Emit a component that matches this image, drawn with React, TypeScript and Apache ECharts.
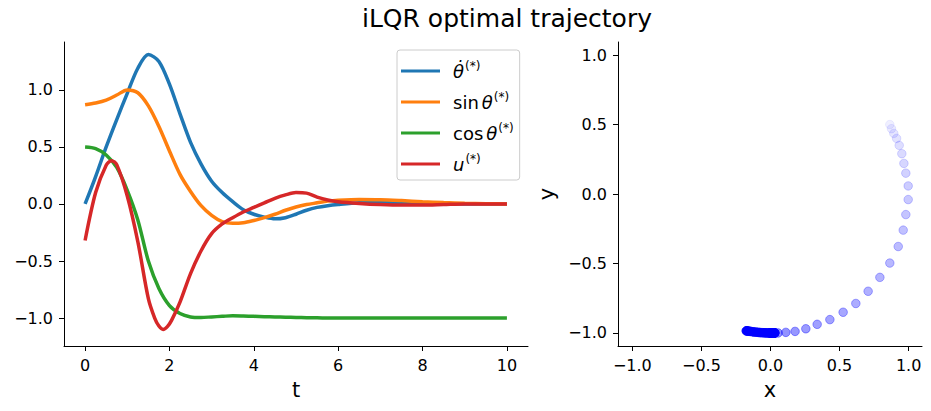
import React, { useEffect, useRef } from "react";
import * as echarts from "echarts";

// time samples
const tValues = [0, 0.25, 0.5, 0.75, 1, 1.25, 1.5, 1.75, 2, 2.25, 2.5, 2.75, 3, 3.25, 3.5, 3.75, 4, 4.25, 4.5, 4.75, 5, 5.25, 5.5, 5.75, 6, 6.5, 7, 7.5, 8, 8.5, 9, 9.5, 10];
// theta dot
const thetaDot = [0, 0.24, 0.5, 0.74, 0.97, 1.19, 1.31, 1.25, 1.05, 0.79, 0.54, 0.35, 0.2, 0.1, 0.02, -0.05, -0.09, -0.115, -0.13, -0.12, -0.09, -0.055, -0.03, -0.015, -0.005, 0.01, 0.015, 0.015, 0.01, 0.005, 0.0, 0.0, 0.0];
// sin theta
const sinTheta = [0.87, 0.885, 0.91, 0.955, 1.0, 0.975, 0.86, 0.68, 0.465, 0.26, 0.11, -0.015, -0.1, -0.155, -0.17, -0.165, -0.145, -0.12, -0.09, -0.055, -0.026, -0.005, 0.01, 0.025, 0.033, 0.04, 0.038, 0.03, 0.02, 0.012, 0.006, 0.002, 0.0];
// cos theta
const cosTheta = [0.5, 0.486, 0.43, 0.32, 0.12, -0.14, -0.5, -0.74, -0.89, -0.96, -0.99, -0.995, -0.99, -0.985, -0.98, -0.982, -0.985, -0.988, -0.99, -0.993, -0.995, -0.997, -0.998, -0.999, -1.0, -1.0, -1.0, -1.0, -1.0, -1.0, -1.0, -1.0, -1.0];
// control u (own, denser sampling around its extrema)
const uTimes = [0, 0.25, 0.5, 0.625, 0.75, 1, 1.25, 1.5, 1.65, 1.75, 1.85, 1.95, 2.05, 2.25, 2.5, 2.75, 3, 3.25, 3.5, 3.75, 4, 4.25, 4.5, 4.75, 5, 5.25, 5.5, 5.75, 6, 6.5, 7, 7.5, 8, 8.5, 9, 9.5, 10];
const uControl = [-0.32, 0.1, 0.34, 0.38, 0.345, 0.07, -0.33, -0.83, -1.0, -1.07, -1.1, -1.075, -1.02, -0.86, -0.61, -0.41, -0.26, -0.175, -0.12, -0.07, -0.03, 0.01, 0.05, 0.08, 0.1, 0.095, 0.06, 0.035, 0.02, 0.005, -0.005, -0.01, -0.01, -0.005, 0.0, 0.0, 0.0];

// pendulum tip positions (x = sin theta, y = cos theta)
const tipX = [0.864, 0.876, 0.893, 0.913, 0.932, 0.951, 0.966, 0.98, 0.997, 0.997, 0.98, 0.961, 0.925, 0.864, 0.792, 0.707, 0.618, 0.526, 0.43, 0.338, 0.256, 0.178, 0.111, 0.055,
  0.005, -0.04, -0.075, -0.1, -0.125, -0.145, -0.16, -0.17, -0.175, -0.175, -0.17, -0.165, -0.155, -0.145, -0.13, -0.12, -0.105, -0.09, -0.08, -0.065, -0.055, -0.045, -0.035, -0.025, -0.015, -0.01,
  0.0, 0.005, 0.01, 0.015, 0.02, 0.025, 0.025, 0.03, 0.03, 0.03, 0.03, 0.025, 0.025, 0.02, 0.02, 0.015, 0.015, 0.01, 0.01, 0.005, 0.005, 0.0, 0.0, 0.0];
const tipY = [0.5, 0.47, 0.436, 0.4, 0.35, 0.29, 0.22, 0.15, 0.058, -0.04, -0.148, -0.26, -0.378, -0.497, -0.6, -0.7, -0.788, -0.851, -0.904, -0.938, -0.97, -0.989, -0.996, -1.0,
  -1.0, -0.999, -0.997, -0.995, -0.992, -0.989, -0.987, -0.985, -0.985, -0.985, -0.985, -0.986, -0.988, -0.989, -0.991, -0.993, -0.994, -0.996, -0.997, -0.998, -0.998, -0.999, -0.999, -1.0, -1.0, -1.0,
  -1.0, -1.0, -1.0, -1.0, -1.0, -1.0, -1.0, -1.0, -1.0, -1.0, -1.0, -1.0, -1.0, -1.0, -1.0, -1.0, -1.0, -1.0, -1.0, -1.0, -1.0, -1.0, -1.0, -1.0];

const tTicks = [0, 2, 4, 6, 8, 10];
const valTicks = [-1, -0.5, 0, 0.5, 1];

const seriesNames = ["thetaDot", "sinTheta", "cosTheta", "u"];
const seriesColors = ["#1f77b4", "#ff7f0e", "#2ca02c", "#d62728"];
const legendLabels: Record<string, string> = {
  thetaDot: "{it|θ\u0307}{sup|(*)}",
  sinTheta: "{rm|sin}{itp|θ}{sup|(*)}",
  cosTheta: "{rm|cos}{itp|θ}{sup|(*)}",
  u: "{it|u}{sup|(*)}",
};

const FONT = "DejaVu Sans";
const valFmt = (v: number) => (v < 0 ? "\u2212" : "") + Math.abs(v).toFixed(1);

export default function App() {
  const ref = useRef<HTMLDivElement>(null);
  useEffect(() => {
    if (!ref.current) return;
    const chart = echarts.init(ref.current, undefined, { renderer: "svg" });
    const lineData = [
      tValues.map((t, i) => [t, thetaDot[i]]),
      tValues.map((t, i) => [t, sinTheta[i]]),
      tValues.map((t, i) => [t, cosTheta[i]]),
      uTimes.map((t, i) => [t, uControl[i]]),
    ];
    const axisCommon = {
      axisLine: { show: true, onZero: false, lineStyle: { color: "#000", width: 1 } },
      splitLine: { show: false },
      nameTextStyle: { fontFamily: FONT, fontSize: 21, color: "#000" },
    };
    const tickStyle = (vals: number[]) => ({ show: true, length: 5, customValues: vals, lineStyle: { color: "#000", width: 1 } });
    const labelStyle = (vals: number[], margin: number, f: (v: number) => string) => ({
      customValues: vals, fontFamily: FONT, fontSize: 16, color: "#000", margin, formatter: f,
    });
    const option: any = {
      animation: false,
      backgroundColor: "#fff",
      title: {
        text: "iLQR optimal trajectory",
        left: 362,
        top: 6,
        padding: 0,
        textStyle: { fontFamily: FONT, fontSize: 25, fontWeight: "normal", color: "#000" },
      },
      legend: {
        data: seriesNames,
        orient: "vertical",
        left: 397,
        top: 50,
        padding: [10, 6, 7, 4],
        itemGap: 11,
        itemWidth: 39,
        itemHeight: 3,
        icon: "rect",
        borderColor: "#cccccc",
        borderWidth: 1,
        borderRadius: 3,
        backgroundColor: "rgba(255,255,255,0.8)",
        formatter: (name: string) => legendLabels[name],
        textStyle: {
          fontFamily: FONT,
          fontSize: 17,
          color: "#000",
          padding: [0, 0, 0, 8],
          rich: {
            it: { fontFamily: FONT, fontSize: 18, fontStyle: "italic", color: "#000" },
            itp: { fontFamily: FONT, fontSize: 18, fontStyle: "italic", color: "#000", padding: [0, 0, 0, 3] },
            rm: { fontFamily: FONT, fontSize: 18, color: "#000" },
            sup: { fontFamily: FONT, fontSize: 12, color: "#000", padding: [0, 0, 10, 1] },
          },
        },
      },
      grid: [
        { left: 64, top: 42, width: 464, height: 304 },
        { left: 618, top: 42, width: 304, height: 304 },
      ],
      xAxis: [
        {
          ...axisCommon,
          type: "value",
          gridIndex: 0,
          min: -0.5,
          max: 10.5,
          name: "t",
          nameLocation: "middle",
          nameGap: 33,
          axisTick: tickStyle(tTicks),
          axisLabel: labelStyle(tTicks, 11, (v: number) => String(v)),
        },
        {
          ...axisCommon,
          type: "value",
          gridIndex: 1,
          min: -1.104,
          max: 1.097,
          name: "x",
          nameLocation: "middle",
          nameGap: 33,
          axisTick: tickStyle(valTicks),
          axisLabel: labelStyle(valTicks, 11, valFmt),
        },
      ],
      yAxis: [
        {
          ...axisCommon,
          type: "value",
          gridIndex: 0,
          min: -1.245,
          max: 1.42,
          axisTick: tickStyle(valTicks),
          axisLabel: labelStyle(valTicks, 11, valFmt),
        },
        {
          ...axisCommon,
          type: "value",
          gridIndex: 1,
          min: -1.094,
          max: 1.094,
          name: "y",
          nameLocation: "middle",
          nameGap: 61,
          axisTick: tickStyle(valTicks),
          axisLabel: labelStyle(valTicks, 11, valFmt),
        },
      ],
      series: [
        ...seriesNames.map((name, k) => ({
          type: "line",
          name,
          xAxisIndex: 0,
          yAxisIndex: 0,
          data: lineData[k],
          showSymbol: false,
          smooth: 0.3,
          lineStyle: { width: 3.5, color: seriesColors[k] },
          itemStyle: { color: seriesColors[k] },
          z: 2 + k,
        })),
        {
          type: "scatter",
          name: "tip",
          xAxisIndex: 1,
          yAxisIndex: 1,
          symbolSize: 8.5,
          data: tipX.map((x, i) => {
            const a = Math.min(1, 0.08 + (1.5 * i) / (tipX.length - 1));
            return {
              value: [x, tipY[i]],
              itemStyle: { color: `rgba(0,0,255,${a.toFixed(3)})`, borderColor: `rgba(0,0,255,${a.toFixed(3)})`, borderWidth: 1 },
            };
          }),
        },
      ],
    };
    chart.setOption(option);
    return () => chart.dispose();
  }, []);
  return <div ref={ref} style={{ position: "absolute", left: 0, top: 0, width: 931, height: 411 }} />;
}
